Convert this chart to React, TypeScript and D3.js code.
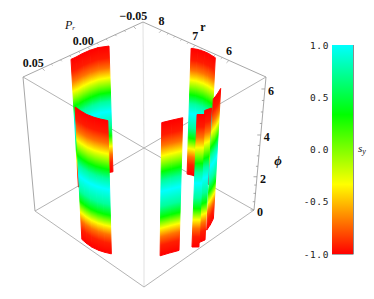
import React from "react";
import * as d3 from "d3";

// spin phase angle along the tube, and the s_y at that angle
const phiStops = [0, 0.6, 1.1, 1.6, 1.9, 2.2, 2.7, 3.4, 3.9, 4.3, 4.65, 4.96, 5.4, 5.85, 6.28];
const syStops = [-1, -0.92, -0.7, -0.33, -0.03, 0.33, 0.74, 1, 0.74, 0.33, -0.03, -0.33, -0.7, -0.93, -1];

// tube cross sections, back to front
const ribbonPr = [
  [-0.0587, -0.0608, -0.0618, -0.0616, -0.0605],
  [-0.0158, -0.0224, -0.0303],
  [0, -0.0059],
  [0.0079, 0.0039],
  [0.0342, 0.0263, 0.0184],
  [0.0197, 0.0145, 0.0066, -0.0013, -0.0092, -0.0171],
  [0.0671, 0.0678, 0.0678, 0.0664, 0.0645, 0.0618],
];
const ribbonR = [
  [7.07, 6.94, 6.76, 6.62, 6.4],
  [5.23, 5.3, 5.41],
  [5.05, 5.01],
  [5.06, 4.94],
  [5.39, 5.3, 5.2],
  [8.52, 8.52, 8.535, 8.53, 8.495, 8.386],
  [7.09, 6.91, 6.725, 6.54, 6.4, 6.25],
];

const prTicks = [-0.05, 0, 0.05];
const rTicks = [8, 7, 6];
const phiTicks = [0, 2, 4, 6];
const barTicks = [1, 0.5, 0, -0.5, -1];
const barHues = [1, 1 / 3, -1 / 3, -1];

const prScale = d3.scaleLinear().domain([-0.0605, 0.071]).range([0, 1]);
const rScale = d3.scaleLinear().domain([8.55, 4.9]).range([0, 1]);
const phiScale = d3.scaleLinear().domain([0, 2, 4, 6, 6.28, 6.42]).range([0, 0.25, 0.564, 0.91, 0.975, 1]);
const prLabelDx = d3.scaleLinear().domain([-0.05, 0.05]).range([0, -9]);
const prLabelDy = d3.scaleLinear().domain([-0.05, 0.05]).range([-6, -1]);

const colorScale = d3
  .scaleLinear<string>()
  .domain([-1, -1 / 3, 1 / 3, 1])
  .range(["#ff0000", "#ffff00", "#00ff00", "#00ffff"]);

const barY = d3.scaleLinear().domain([1, -1]).range([45, 254]);

// box corners on screen: [back, left, right, front]
const topFace = [[143, 22], [23, 77], [266, 77], [144, 148]];
const botFace = [[144, 148], [35, 211], [254, 210], [144, 287]];

function face(f: number[][], a: number, b: number) {
  return [0, 1].map(
    (i) => (1 - a) * (1 - b) * f[0][i] + a * (1 - b) * f[1][i] + (1 - a) * b * f[2][i] + a * b * f[3][i]
  );
}

function project(pr: number, r: number, phi: number) {
  const a = prScale(pr);
  const b = rScale(r);
  const w = phiScale(phi);
  const t = face(topFace, a, b);
  const u = face(botFace, a, b);
  return [u[0] + (t[0] - u[0]) * w, u[1] + (t[1] - u[1]) * w];
}

const edgeColor = "#a8a8a8";
const serif = "'Liberation Serif', 'Times New Roman', serif";
const mono = "'DejaVu Sans Mono', monospace";

function Ribbon({ idx }: { idx: number }) {
  const prs = ribbonPr[idx];
  const rs = ribbonR[idx];
  const phiEnd = phiStops[phiStops.length - 1];
  const cols = d3.range(prs.length - 1).map((i) => {
    const p0 = project(prs[i], rs[i], 0);
    const p1 = project(prs[i + 1], rs[i + 1], 0);
    const p2 = project(prs[i + 1], rs[i + 1], phiEnd);
    const p3 = project(prs[i], rs[i], phiEnd);
    // gradient runs across the slice so colour bands follow the slanted edges
    const ex = p2[0] - p3[0] + p1[0] - p0[0];
    const ey = p2[1] - p3[1] + p1[1] - p0[1];
    const len = Math.hypot(ex, ey);
    const nx = -ey / len;
    const ny = ex / len;
    const mx0 = (p0[0] + p1[0]) / 2;
    const my0 = (p0[1] + p1[1]) / 2;
    const mx1 = (p2[0] + p3[0]) / 2;
    const my1 = (p2[1] + p3[1]) / 2;
    const d = (mx1 - mx0) * nx + (my1 - my0) * ny;
    return { i, pts: [p0, p1, p2, p3], x1: mx0, y1: my0, x2: mx0 + nx * d, y2: my0 + ny * d };
  });
  return (
    <g>
      <defs>
        {cols.map((c) => (
          <linearGradient
            key={c.i}
            id={`rib${idx}-${c.i}`}
            gradientUnits="userSpaceOnUse"
            x1={c.x1}
            y1={c.y1}
            x2={c.x2}
            y2={c.y2}
          >
            {phiStops.map((p, k) => (
              <stop key={k} offset={phiScale(p) / phiScale(phiEnd)} stopColor={colorScale(syStops[k])} />
            ))}
          </linearGradient>
        ))}
      </defs>
      {cols.map((c) => (
        <path
          key={c.i}
          d={d3.line()(c.pts as [number, number][]) + "Z"}
          fill={`url(#rib${idx}-${c.i})`}
          stroke={`url(#rib${idx}-${c.i})`}
          strokeWidth={1}
          strokeLinejoin="round"
        />
      ))}
    </g>
  );
}

export default function App() {
  const seg = (a: number[], b: number[], color: string, key: string, w = 1) => (
    <line key={key} x1={a[0]} y1={a[1]} x2={b[0]} y2={b[1]} stroke={color} strokeWidth={w} />
  );
  const prEdge = (pr: number) => project(pr, 8.55, 6.42);
  const rEdge = (r: number) => project(-0.0605, r, 6.42);
  const phiEdge = (phi: number) => project(-0.0605, 4.9, phi);

  return (
    <svg width={374} height={299} style={{ position: "absolute", left: 0, top: 0 }}>
      <rect width={374} height={299} fill="#fff" />
      {/* box */}
      {seg(topFace[0], botFace[0], "#e6e6e6", "v0", 1.2)}
      {seg(topFace[3], botFace[3], "#e6e6e6", "v3", 1.2)}
      {seg(botFace[0], botFace[1], "#b4b4b4", "b1")}
      {seg(botFace[0], botFace[2], "#b4b4b4", "b2")}
      {seg(botFace[1], botFace[3], "#b4b4b4", "b3")}
      {seg(botFace[2], botFace[3], "#b4b4b4", "b4")}
      {seg(topFace[1], topFace[3], "#b4b4b4", "t3")}
      {seg(topFace[2], topFace[3], "#b4b4b4", "t4")}
      {seg(topFace[0], topFace[1], edgeColor, "t1")}
      {seg(topFace[0], topFace[2], edgeColor, "t2")}
      {seg(topFace[1], botFace[1], edgeColor, "v1")}
      {seg(topFace[2], botFace[2], edgeColor, "v2")}

      {/* ticks */}
      {d3.range(-0.05, 0.0501, 0.01).map((v, i) => {
        const p = prEdge(v);
        const l = i % 5 === 0 ? 3.5 : 2;
        return <line key={i} x1={p[0]} y1={p[1]} x2={p[0] + l * 0.7} y2={p[1] + l * 0.7} stroke="#999" strokeWidth={0.7} />;
      })}
      {d3.range(6, 8.01, 0.2).map((v, i) => {
        const p = rEdge(v);
        const l = i % 5 === 0 ? 3.5 : 2;
        return <line key={i} x1={p[0]} y1={p[1]} x2={p[0] - l * 0.7} y2={p[1] + l * 0.7} stroke="#999" strokeWidth={0.7} />;
      })}
      {d3.range(0, 6.01, 0.5).map((v, i) => {
        const p = phiEdge(v);
        const l = i % 4 === 0 ? 3.5 : 2;
        return <line key={i} x1={p[0]} y1={p[1]} x2={p[0] - l} y2={p[1]} stroke="#888" strokeWidth={0.7} />;
      })}

      {ribbonPr.map((_, i) => (
        <Ribbon key={i} idx={i} />
      ))}

      {/* axis labels */}
      <g fontFamily={serif} fontWeight="bold" fontSize={12} fill="#111" textAnchor="middle">
        {prTicks.map((v) => {
          const p = prEdge(v);
          return (
            <text key={v} x={p[0] + prLabelDx(v)} y={p[1] + prLabelDy(v) + (v === 0 ? 1 : 0)}>
              {v === 0 ? "0.00" : v > 0 ? "0.05" : "\u22120.05"}
            </text>
          );
        })}
        {rTicks.map((v) => {
          const p = rEdge(v);
          return (
            <text key={v} x={p[0]} y={p[1] - 5}>
              {v}
            </text>
          );
        })}
        {phiTicks.map((v) => {
          const p = phiEdge(v);
          return (
            <text key={v} x={p[0] + 6} y={p[1] + 6}>
              {v}
            </text>
          );
        })}
        <text x={203} y={31}>r</text>
        <text x={278} y={165} fontStyle="italic" fontSize={13}>{"\u03d5"}</text>
      </g>
      <text x={65} y={29} fontFamily={serif} fontStyle="italic" fontSize={12} fill="#111">
        P<tspan fontSize={7} dy={1}>r</tspan>
      </text>

      {/* colour bar */}
      <defs>
        <linearGradient id="bar" x1="0" y1="0" x2="0" y2="1">
          {barHues.map((h) => (
            <stop key={h} offset={(1 - h) / 2} stopColor={colorScale(h)} />
          ))}
        </linearGradient>
      </defs>
      <rect x={332} y={barY(1)} width={21} height={barY(-1) - barY(1)} fill="url(#bar)" />
      <line x1={353.5} y1={barY(1)} x2={353.5} y2={barY(-1)} stroke="#000" strokeOpacity={0.45} />
      <line x1={332} y1={barY(-1) + 0.5} x2={353.5} y2={barY(-1) + 0.5} stroke="#000" strokeOpacity={0.35} />
      {barTicks.map((v) => (
        <text
          key={v}
          x={329}
          y={barY(v) + 3.5}
          textAnchor="end"
          fontFamily={mono}
          fontSize={9.5}
          letterSpacing={0.6}
          fill="#222"
        >
          {v.toFixed(1)}
        </text>
      ))}
      <text x={358} y={152} fontFamily={serif} fontStyle="italic" fontSize={11} fill="#111">
        s<tspan fontSize={8} dy={2}>y</tspan>
      </text>
    </svg>
  );
}
